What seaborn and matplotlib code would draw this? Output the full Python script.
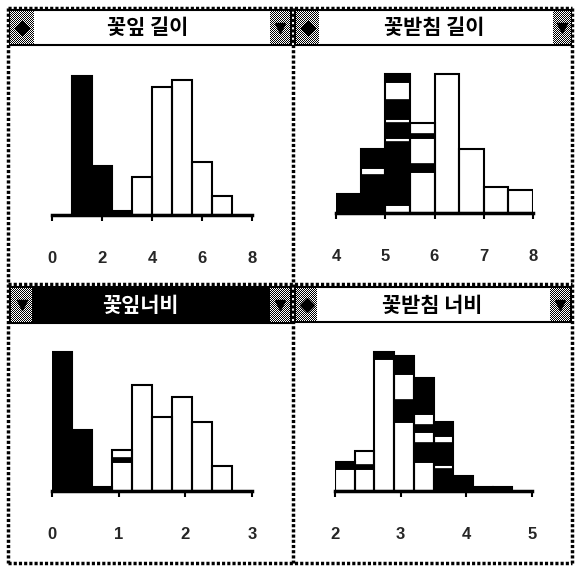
import numpy as np
import matplotlib
matplotlib.use('Agg')
import matplotlib.pyplot as plt
import seaborn as sns

sns.set_style('white')
plt.rcParams['font.family'] = ['Noto Sans CJK KR', 'DejaVu Sans']

W, H = 575, 567

# bin edges and stacked segments per bin ('B' = selected/black, 'W' = white), counts
petal_len_edges = [0.8, 1.6, 2.4, 3.2, 4.0, 4.8, 5.6, 6.4, 7.2]
petal_len_segs = [[('B', 37)], [('B', 13)], [('B', 1)], [('W', 10)],
                  [('W', 34)], [('W', 36)], [('W', 14)], [('W', 5)]]

sepal_len_edges = [4.0, 4.5, 5.0, 5.5, 6.0, 6.5, 7.0, 7.5, 8.0]
sepal_len_segs = [[('B', 5)],
                  [('B', 10), ('W', 2), ('B', 5)],
                  [('W', 2), ('B', 17), ('W', 1), ('B', 4), ('W', 1), ('B', 5), ('W', 5), ('B', 2)],
                  [('W', 11), ('B', 2), ('W', 7), ('B', 1), ('W', 3)],
                  [('W', 37)], [('W', 17)], [('W', 7)], [('W', 6)]]

petal_wid_edges = [0.0, 0.3, 0.6, 0.9, 1.2, 1.5, 1.8, 2.1, 2.4, 2.7]
petal_wid_segs = [[('B', 34)], [('B', 15)], [('B', 1)],
                  [('W', 7), ('B', 1), ('W', 2)],
                  [('W', 26)], [('W', 18)], [('W', 23)], [('W', 17)], [('W', 6)]]

sepal_wid_edges = [2.0, 2.3, 2.6, 2.9, 3.2, 3.5, 3.8, 4.1, 4.4, 4.7]
sepal_wid_segs = [[('W', 6), ('B', 2)],
                  [('W', 6), ('B', 1), ('W', 4)],
                  [('W', 36), ('B', 2)],
                  [('W', 19), ('B', 6), ('W', 7), ('B', 5)],
                  [('W', 8), ('B', 5), ('W', 3), ('B', 2), ('W', 3), ('B', 10)],
                  [('B', 6), ('W', 1), ('B', 6), ('W', 2), ('B', 4)],
                  [('B', 4)], [('B', 1)], [('B', 1)]]

titles = ['꽃잎 길이', '꽃받침 길이', '꽃잎너비', '꽃받침 너비']
xticks = [[0, 2, 4, 6, 8], [4, 5, 6, 7, 8], [0, 1, 2, 3], [2, 3, 4, 5]]
xlims = [(0, 8), (4, 8), (0, 3), (2, 5)]


def px_box(x0, y0, x1, y1):
    return [x0 / W, 1 - y1 / H, (x1 - x0) / W, (y1 - y0) / H]


fig = plt.figure(figsize=(W / 100, H / 100), dpi=100)
fig.patch.set_facecolor('white')

# overlay in pixel coordinates for the window chrome
ov = fig.add_axes([0, 0, 1, 1])
ov.set_axis_off()


def dotted(x, y):
    ov.plot(x, y, color='black', lw=2.5, linestyle=(0, (0.9, 0.6)),
            solid_capstyle='butt', dash_capstyle='butt', zorder=4)


def title_bar(x0, x1, y0, y1, lbox, rbox, text, tx, ty, active, licon, ricon):
    ov.add_patch(plt.Rectangle((x0, y0), x1 - x0, y1 - y0,
                               facecolor='black' if active else 'white',
                               edgecolor='black', lw=1.5, zorder=1))
    for (bx0, bx1), icon in ((lbox, licon), (rbox, ricon)):
        h, w = int(y1 - y0 - 2), int(bx1 - bx0)
        pattern = np.indices((h, w)).sum(axis=0) % 2
        ov.imshow(pattern, cmap='Greys', vmin=0, vmax=1,
                  extent=(bx0, bx1, y1 - 1, y0 + 1), interpolation='nearest',
                  aspect='auto', zorder=2)
        ov.plot([(bx0 + bx1) / 2], [(y0 + y1) / 2], marker=icon, ms=7,
                color='black', mec='black', zorder=3)
    ov.text(tx, ty, text, ha='center', va='center', fontsize=15,
            fontweight='bold', color='white' if active else 'black',
            family=['Noto Sans CJK KR', 'DejaVu Sans'], zorder=3)


title_bar(10, 291, 10, 45, (10, 34), (270, 290), titles[0], 148, 27, False, 'D', 'v')
title_bar(295, 571, 10, 45, (296, 319), (553, 571), titles[1], 434, 27, False, 'D', 'v')
title_bar(10, 291, 287, 323, (11, 32), (270, 290), titles[2], 140, 305, True, 'v', 'v')
title_bar(295, 571, 287, 322, (296, 317), (550, 570), titles[3], 432, 306, False, 'D', 'v')

dotted([8, 572], [8, 8])
dotted([8, 572], [563, 563])
dotted([8, 8], [8, 563])
dotted([572, 572], [8, 563])
dotted([293, 293], [8, 563])
dotted([8, 572], [284, 284])

ov.set_xlim(0, W)
ov.set_ylim(H, 0)

panels = [
    (petal_len_edges, petal_len_segs, (52, 252, 215)),
    (sepal_len_edges, sepal_len_segs, (336, 533, 213)),
    (petal_wid_edges, petal_wid_segs, (52, 252, 491)),
    (sepal_wid_edges, sepal_wid_segs, (335, 532, 491)),
]

for i, (edges, segs, (x0, x1, base)) in enumerate(panels):
    ax = fig.add_axes(px_box(x0, base - 150, x1, base))
    ax.patch.set_alpha(0)
    lefts = edges[:-1]
    width = edges[1] - edges[0]
    totals = [sum(c for _, c in s) for s in segs]
    for left, s in zip(lefts, segs):
        bottom = 0
        for kind, cnt in s:
            ax.bar(left, cnt, width=width, bottom=bottom, align='edge',
                   color='black' if kind == 'B' else 'white',
                   edgecolor='black', linewidth=1.2)
            bottom += cnt
    centers = [l + width / 2 for l in lefts]
    sns.histplot(x=centers, weights=totals, bins=edges, fill=False,
                 color='black', linewidth=1.5, ax=ax)
    ax.set_xlim(*xlims[i])
    ax.set_ylim(0, max(totals) * 150 / 139)
    ax.set_xticks(xticks[i])
    ax.set_xticklabels([str(t) for t in xticks[i]],
                       family=['Liberation Sans', 'DejaVu Sans'],
                       fontweight='bold', fontsize=12)
    ax.set_yticks([])
    ax.set_xlabel('')
    ax.set_ylabel('')
    sns.despine(ax=ax, left=True)
    ax.spines['bottom'].set_linewidth(2.5)
    ax.spines['bottom'].set_color('black')
    ax.tick_params(axis='x', direction='out', length=4, width=1.5,
                   color='black', pad=22, bottom=True)

fig.savefig('out.png', dpi=100, facecolor='white')
